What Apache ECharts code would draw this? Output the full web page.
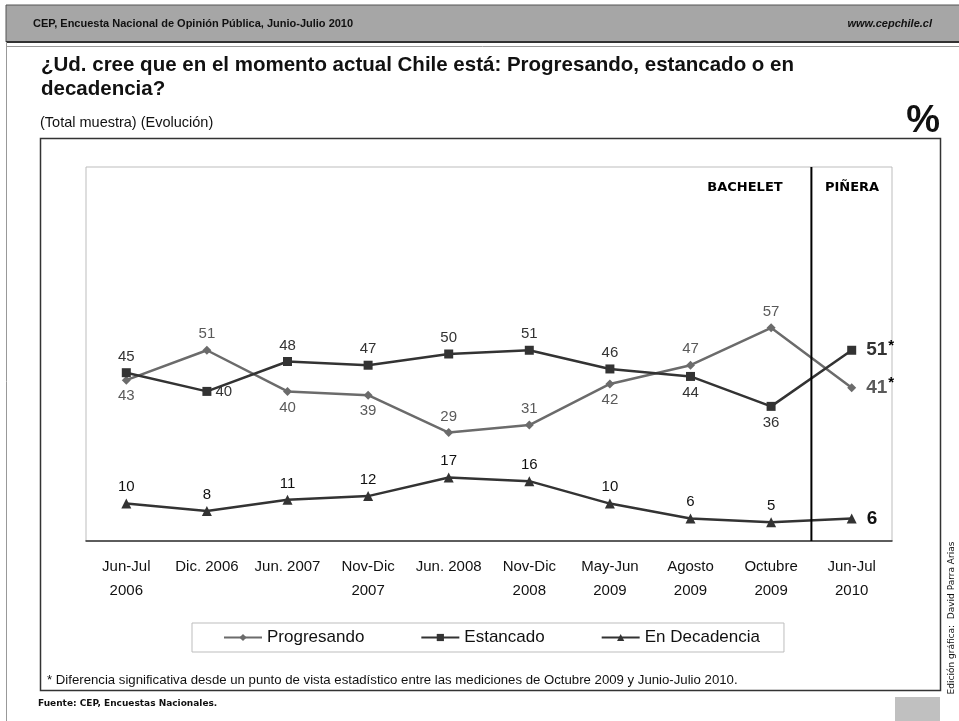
<!DOCTYPE html>
<html>
<head>
<meta charset="utf-8">
<title>CEP - Progresando, estancado o en decadencia</title>
<script src="https://cdn.jsdelivr.net/npm/echarts@6/dist/echarts.min.js"></script>
<style>
  html, body { margin: 0; padding: 0; background: #fff; }
  #main { width: 959px; height: 721px; }
</style>
</head>
<body>
<div id="main"></div>
<script>
// datos
const categories = ['Jun-Jul\n2006', 'Dic. 2006', 'Jun. 2007', 'Nov-Dic\n2007', 'Jun. 2008',
  'Nov-Dic\n2008', 'May-Jun\n2009', 'Agosto\n2009', 'Octubre\n2009', 'Jun-Jul\n2010'];
const progresando = [43, 51, 40, 39, 29, 31, 42, 47, 57, 41];
const estancado = [45, 40, 48, 47, 50, 51, 46, 44, 36, 51];
const decadencia = [10, 8, 11, 12, 17, 16, 10, 6, 5, 6];
// donde va cada etiqueta
const progresandoPos = ['bottom', 'top', 'bottom', 'bottom', 'top', 'top', 'bottom', 'top', 'top', 'right'];
const estancadoPos = ['top', 'right', 'top', 'top', 'top', 'top', 'top', 'bottom', 'bottom', 'right'];
const decadenciaPos = ['top', 'top', 'top', 'top', 'top', 'top', 'top', 'top', 'top', 'right'];
// ultima medicion con diferencia significativa
const significativo = [false, false, false, false, false, false, false, false, false, true];
// linea Bachelet / Piñera (en el eje oculto 0..10)
const cambioGobierno = 9;

const FONT = '"Liberation Sans", Arial, sans-serif';

function buildData(values, positions, color, stars) {
  return values.map((v, i) => {
    const last = i === values.length - 1;
    return {
      value: v,
      label: {
        position: positions[i],
        distance: last ? 10 : 4,
        formatter: last ? (stars && stars[i] ? '{b|{c}}{s|*}' : '{b|{c}}') : '{c}',
        color: color,
      },
    };
  });
}

const chart = echarts.init(document.getElementById('main'));

const labelRich = {
  b: { fontSize: 19, fontWeight: 'bold', fontFamily: FONT },
  s: { fontSize: 15, fontWeight: 'bold', fontFamily: FONT, padding: [0, 0, 9, 1], color: '#000' },
};

chart.setOption({
  animation: false,
  textStyle: { fontFamily: FONT },
  grid: {
    left: 86, top: 167, width: 806, height: 374,
    show: true, borderColor: '#bdbdbd', borderWidth: 1,
  },
  xAxis: [{
    type: 'category',
    data: categories,
    axisLine: { lineStyle: { color: '#333', width: 1.5 } },
    axisTick: { length: 6, lineStyle: { color: '#333' } },
    axisLabel: { color: '#111', fontSize: 15, fontFamily: FONT, lineHeight: 24, margin: 14, interval: 0 },
  }, {
    type: 'value', min: 0, max: 10, show: false,
  }],
  yAxis: {
    type: 'value', min: 0, max: 100, show: false,
    splitLine: { show: false },
  },
  legend: {
    left: 192, top: 623,
    padding: [6, 24, 6, 31],
    borderColor: '#bdbdbd', borderWidth: 1,
    itemWidth: 38, itemHeight: 9, itemGap: 56,
    textStyle: { fontSize: 17, color: '#111', fontFamily: FONT },
    data: ['Progresando', 'Estancado', 'En Decadencia'],
  },
  series: [{
    name: 'Progresando',
    type: 'line',
    data: buildData(progresando, progresandoPos, '#5a5a5a', significativo),
    symbol: 'diamond', symbolSize: 9,
    itemStyle: { color: '#6b6b6b' },
    lineStyle: { color: '#6b6b6b', width: 2.5 },
    label: { show: true, fontSize: 15, fontFamily: FONT, rich: labelRich },
    z: 3,
  }, {
    name: 'Estancado',
    type: 'line',
    data: buildData(estancado, estancadoPos, '#333', significativo),
    symbol: 'rect', symbolSize: 9,
    itemStyle: { color: '#333' },
    lineStyle: { color: '#333', width: 2.5 },
    label: { show: true, fontSize: 15, fontFamily: FONT, rich: labelRich },
    z: 4,
  }, {
    name: 'En Decadencia',
    type: 'line',
    data: buildData(decadencia, decadenciaPos, '#111', null),
    symbol: 'triangle', symbolSize: 10,
    itemStyle: { color: '#333' },
    lineStyle: { color: '#333', width: 2.5 },
    label: { show: true, fontSize: 15, fontFamily: FONT, rich: labelRich },
    z: 4,
  }, {
    // separador entre gobiernos
    type: 'line',
    xAxisIndex: 1,
    data: [[cambioGobierno, 0], [cambioGobierno, 100]],
    symbol: 'none', silent: true,
    lineStyle: { color: '#000', width: 2 },
    z: 5,
  }],
  graphic: [
    // franja de encabezado
    { type: 'rect', shape: { x: 6, y: 5, width: 960, height: 37 }, style: { fill: '#a6a6a6', stroke: '#555', lineWidth: 1 } },
    { type: 'line', shape: { x1: 6, y1: 42, x2: 959, y2: 42 }, style: { stroke: '#333', lineWidth: 2 } },
    { type: 'line', shape: { x1: 6, y1: 46.5, x2: 959, y2: 46.5 }, style: { stroke: '#999', lineWidth: 1 } },
    { type: 'line', shape: { x1: 6.5, y1: 42, x2: 6.5, y2: 721 }, style: { stroke: '#999', lineWidth: 1 } },
    { type: 'text', style: { text: 'CEP, Encuesta Nacional de Opinión Pública, Junio-Julio 2010', x: 33, y: 24, textVerticalAlign: 'middle', font: 'bold 11px ' + FONT, fill: '#111' } },
    { type: 'text', style: { text: 'www.cepchile.cl', x: 932, y: 24, textAlign: 'right', textVerticalAlign: 'middle', font: 'italic bold 11px ' + FONT, fill: '#111' } },
    // titulo
    { type: 'text', style: { text: '¿Ud. cree que en el momento actual Chile está: Progresando, estancado o en', x: 41, y: 65, textVerticalAlign: 'middle', font: 'bold 20.5px ' + FONT, fill: '#111' } },
    { type: 'text', style: { text: 'decadencia?', x: 41, y: 89, textVerticalAlign: 'middle', font: 'bold 20.5px ' + FONT, fill: '#111' } },
    { type: 'text', style: { text: '(Total muestra) (Evolución)', x: 40, y: 123, textVerticalAlign: 'middle', font: '14.5px ' + FONT, fill: '#111' } },
    { type: 'text', style: { text: '%', x: 940, y: 122, textAlign: 'right', textVerticalAlign: 'middle', font: 'bold 38px ' + FONT, fill: '#111' } },
    // recuadro del grafico
    { type: 'rect', shape: { x: 40.5, y: 138.5, width: 900, height: 552 }, style: { fill: 'none', stroke: '#333', lineWidth: 1.5 }, z: -1 },
    { type: 'text', style: { text: 'BACHELET', x: 745, y: 188, textAlign: 'center', textVerticalAlign: 'middle', font: 'bold 13px "DejaVu Sans", sans-serif', fill: '#000' } },
    { type: 'text', style: { text: 'PIÑERA', x: 852, y: 188, textAlign: 'center', textVerticalAlign: 'middle', font: 'bold 13px "DejaVu Sans", sans-serif', fill: '#000' } },
    { type: 'text', style: { text: '* Diferencia significativa desde un punto de vista estadístico entre las mediciones de Octubre 2009 y Junio-Julio 2010.', x: 47, y: 680, textVerticalAlign: 'middle', font: '13.2px ' + FONT, fill: '#111' } },
    // pie
    { type: 'text', style: { text: 'Fuente: CEP, Encuestas Nacionales.', x: 38, y: 704, textVerticalAlign: 'middle', font: 'bold 9px "DejaVu Sans", sans-serif', fill: '#111' } },
    { type: 'rect', shape: { x: 895, y: 697, width: 45, height: 24 }, style: { fill: '#c0c0c0' } },
    { type: 'text', x: 952, y: 618, rotation: Math.PI / 2, style: { text: 'Edición gráfica:  David Parra Arias', x: 0, y: 0, textAlign: 'center', textVerticalAlign: 'middle', font: '9px "DejaVu Sans", sans-serif', fill: '#111' } },
  ],
});
</script>
</body>
</html>
